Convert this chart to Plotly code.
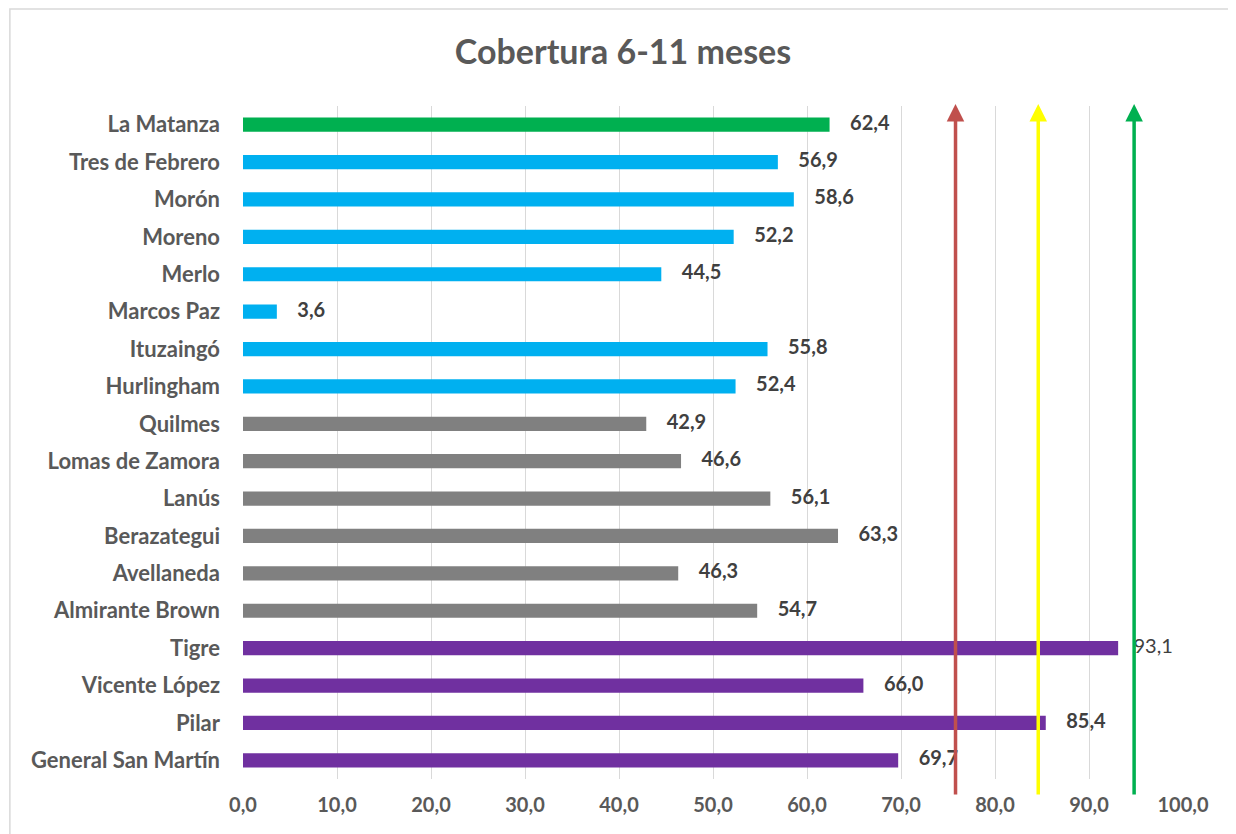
import plotly.graph_objects as go

categories = ["La Matanza", "Tres de Febrero", "Morón", "Moreno", "Merlo", "Marcos Paz",
              "Ituzaingó", "Hurlingham", "Quilmes", "Lomas de Zamora", "Lanús", "Berazategui",
              "Avellaneda", "Almirante Brown", "Tigre", "Vicente López", "Pilar",
              "General San Martín"]
values = [62.4, 56.9, 58.6, 52.2, 44.5, 3.6, 55.8, 52.4, 42.9, 46.6, 56.1, 63.3,
          46.3, 54.7, 93.1, 66.0, 85.4, 69.7]
groups = ["green"] + ["blue"] * 7 + ["gray"] * 6 + ["purple"] * 4
group_colors = {"green": "#00B050", "blue": "#00B0F0", "gray": "#808080", "purple": "#7030A0"}
arrow_values = [75.8, 84.6, 94.8]
arrow_colors = ["#C0504D", "#FFFF00", "#00B050"]
x_ticks = [0, 10, 20, 30, 40, 50, 60, 70, 80, 90, 100]

FONT = "Lato, Open Sans, sans-serif"
TXT = "#404040"
AX = "#595959"

colors = [group_colors[g] for g in groups]
labels = []
for c, v in zip(categories, values):
    s = f"{v:.1f}".replace(".", ",")
    if c == "Tigre":
        labels.append("\u00a0\u00a0\u00a0" + s)
    else:
        labels.append("\u00a0\u00a0\u00a0\u00a0" + f"<b>{s}</b>")

n = len(categories)

fig = go.Figure()
fig.add_trace(go.Bar(
    y=categories, x=values, orientation="h", marker=dict(color=colors, line=dict(width=0)),
    width=0.38, hoverinfo="x+y", showlegend=False,
))
fig.add_trace(go.Scatter(
    y=categories, x=values, mode="text", text=labels, textposition="middle right",
    textfont=dict(family=FONT, size=20, color=TXT), showlegend=False, hoverinfo="skip",
))

# arrows
for xv, col in zip(arrow_values, arrow_colors):
    fig.add_annotation(
        x=xv, y=1.003, xref="x", yref="paper", ax=0, ay=692, axref="pixel", ayref="pixel",
        text="", showarrow=True, arrowhead=2, arrowsize=1.0, arrowwidth=3.5, arrowcolor=col,
        standoff=0,
    )

# outer frame
fig.add_shape(type="rect", xref="paper", yref="paper", x0=-0.248, x1=1.07, y0=-0.2, y1=1.144,
              line=dict(color="#D9D9D9", width=1.5), fillcolor="rgba(0,0,0,0)", layer="below")

fig.update_layout(
    width=1236, height=834,
    margin=dict(l=235, r=61, t=98, b=63, autoexpand=False),
    paper_bgcolor="white", plot_bgcolor="white",
    separators=", ",
    title=dict(text="<b>Cobertura 6-11 meses</b>", x=0.4976, xref="container", xanchor="center",
               y=0.947, yanchor="middle",
               font=dict(family=FONT, size=34, color=AX)),
    xaxis=dict(range=[0, 100], tickvals=x_ticks, tickformat=".1f", showgrid=True,
               gridcolor="#D9D9D9", gridwidth=1, zeroline=False, showline=False,
               ticks="", ticklabelstandoff=12, automargin=False,
               tickfont=dict(family=FONT, size=20, color=AX, weight="bold")),
    yaxis=dict(range=[n - 0.5, -0.5], showgrid=False, zeroline=False, showline=False,
               ticks="", ticklabelstandoff=22, automargin=False,
               tickfont=dict(family=FONT, size=22, color=AX, weight="bold")),
)

fig.write_html("out.html")
